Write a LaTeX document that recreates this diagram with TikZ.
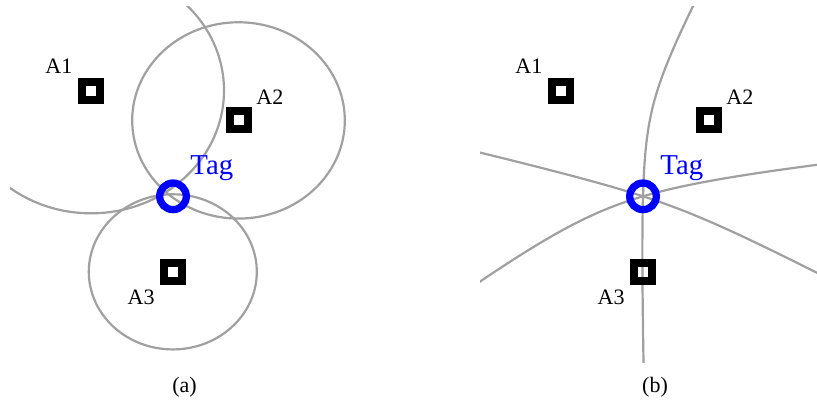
\documentclass[tikz,border=0pt]{standalone}
\usepackage{fontspec}
\setmainfont{Liberation Serif}
\usetikzlibrary{positioning}

\definecolor{rangegray}{RGB}{160,160,160}
\definecolor{tagblue}{RGB}{0,0,255}

% one branch of the hyperbola with foci (#1,#2) and (#3,#4) through the tag
\newcommand{\tdoabranch}[4]{%
  \pgfmathsetmacro\dA{veclen(\tagx-#1,\tagy-#2)}
  \pgfmathsetmacro\dB{veclen(\tagx-#3,\tagy-#4)}
  \pgfmathsetmacro\hc{veclen(#3-#1,#4-#2)/2}
  \pgfmathsetmacro\ha{abs(\dA-\dB)/2}
  \pgfmathsetmacro\hb{sqrt(\hc*\hc-\ha*\ha)}
  \pgfmathsetmacro\ex{sign(\dA-\dB)*(#3-#1)/(2*\hc)}
  \pgfmathsetmacro\ey{sign(\dA-\dB)*(#4-#2)/(2*\hc)}
  \draw[rangeline] plot[domain=-3:3, samples=160, variable=\t]
    ({(#1+#3)/2+\ha*cosh(\t)*\ex-\hb*sinh(\t)*\ey},
     {(#2+#4)/2+\ha*cosh(\t)*\ey+\hb*sinh(\t)*\ex});
}

\begin{document}
\begin{tikzpicture}[x=5pt, y=-4.617pt]
  % Style definitions
  \tikzstyle{anchorbox} = [rectangle, draw=black, line width=4pt, minimum size=9pt, inner sep=0pt, outer sep=0pt]
  \tikzstyle{tagring} = [circle, draw=tagblue, line width=3.65pt, minimum size=13.3pt, inner sep=0pt, outer sep=0pt]
  \tikzstyle{lbl} = [inner sep=0pt, font=\fontsize{11}{13}\selectfont]
  \tikzstyle{taglbl} = [inner sep=0pt, text=tagblue, font=\fontsize{14.4}{17}\selectfont]
  \tikzstyle{rangeline} = [draw=rangegray, line width=1.1pt]
  \def\tagx{17.30}
  \def\tagy{21.26}

  \useasboundingbox (0,0) rectangle (81.7,43.43);

  % (a) ranging circles
  \begin{scope}
    \clip (1.0,0.726) rectangle (34.7,39.24);
    \coordinate (pa1) at (9.10,9.80);
    \coordinate (pa2) at (23.85,13.04);
    \coordinate (pa3) at (17.28,29.44);
    \draw[rangeline] (pa1) circle [radius=13.3];
    \draw[rangeline] (pa2) circle [radius=10.63];
    \draw[rangeline] (pa3) circle [radius=8.4];

    \node[anchorbox] (a1) at (pa1) {};
    \node[anchorbox] (a2) at (pa2) {};
    \node[anchorbox] (a3) at (pa3) {};
    \node[lbl, above left=3.75pt and 4.65pt of a1] (a1lbl) {A1};
    \node[lbl, above right=3.35pt and 4.25pt of a2] (a2lbl) {A2};
    \node[lbl, below left=4.15pt and 4.4pt of a3] (a3lbl) {A3};
    \node[tagring] (atag) at (\tagx,\tagy) {};
    \node[taglbl, above right=3.15pt and 3.8pt of atag] (ataglbl) {Tag};
  \end{scope}
  \node[lbl] (capa) at (18.45,41.88) {(a)};

  % (b) TDOA hyperbolas
  \begin{scope}[xshift=235pt]
    \clip (1.0,0.726) rectangle (34.7,39.24);
    \tdoabranch{9.10}{9.80}{23.85}{13.04}
    \tdoabranch{23.85}{13.04}{17.28}{29.44}
    \tdoabranch{9.10}{9.80}{17.28}{29.44}

    \node[anchorbox] (b1) at (9.10,9.80) {};
    \node[anchorbox] (b2) at (23.85,13.04) {};
    \node[anchorbox] (b3) at (17.28,29.44) {};
    \node[lbl, above left=3.75pt and 4.65pt of b1] (b1lbl) {A1};
    \node[lbl, above right=3.35pt and 4.25pt of b2] (b2lbl) {A2};
    \node[lbl, below left=4.15pt and 4.4pt of b3] (b3lbl) {A3};
    \node[tagring] (btag) at (\tagx,\tagy) {};
    \node[taglbl, above right=3.15pt and 3.8pt of btag] (btaglbl) {Tag};
  \end{scope}
  \node[lbl] (capb) at (65.5,41.88) {(b)};
\end{tikzpicture}
\end{document}
